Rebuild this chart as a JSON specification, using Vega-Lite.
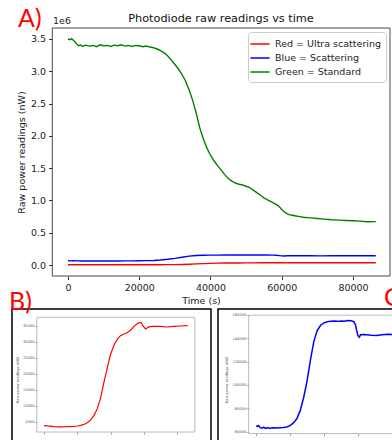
{
  "$schema": "https://vega.github.io/schema/vega-lite/v6.json",
  "padding": {"left": 8, "top": 6, "right": 0, "bottom": 0},
  "bounds": "flush",
  "spacing": 33,
  "resolve": {"legend": {"color": "independent"}, "scale": {"x": "independent", "y": "independent"}},
  "config": {
    "view": {"stroke": null},
    "font": "DejaVu Sans",
    "axis": {"grid": false, "domain": false, "labelFlush": false, "labelOverlap": false, "titleFontWeight": "normal", "tickCount": 30}
  },
  "datasets": {
    "readings": [
      {"series": "Red = Ultra scattering", "time": 0, "power": 3800},
      {"series": "Red = Ultra scattering", "time": 2000, "power": 3700},
      {"series": "Red = Ultra scattering", "time": 6000, "power": 3450},
      {"series": "Red = Ultra scattering", "time": 10000, "power": 3400},
      {"series": "Red = Ultra scattering", "time": 14000, "power": 3430},
      {"series": "Red = Ultra scattering", "time": 18000, "power": 3550},
      {"series": "Red = Ultra scattering", "time": 20000, "power": 3650},
      {"series": "Red = Ultra scattering", "time": 22000, "power": 3850},
      {"series": "Red = Ultra scattering", "time": 24000, "power": 4150},
      {"series": "Red = Ultra scattering", "time": 26000, "power": 4650},
      {"series": "Red = Ultra scattering", "time": 28000, "power": 5500},
      {"series": "Red = Ultra scattering", "time": 30000, "power": 6900},
      {"series": "Red = Ultra scattering", "time": 32000, "power": 9000},
      {"series": "Red = Ultra scattering", "time": 34000, "power": 12300},
      {"series": "Red = Ultra scattering", "time": 36000, "power": 17200},
      {"series": "Red = Ultra scattering", "time": 38000, "power": 21700},
      {"series": "Red = Ultra scattering", "time": 40000, "power": 26000},
      {"series": "Red = Ultra scattering", "time": 42000, "power": 28800},
      {"series": "Red = Ultra scattering", "time": 44000, "power": 30700},
      {"series": "Red = Ultra scattering", "time": 46000, "power": 31900},
      {"series": "Red = Ultra scattering", "time": 48000, "power": 32400},
      {"series": "Red = Ultra scattering", "time": 50000, "power": 32800},
      {"series": "Red = Ultra scattering", "time": 52000, "power": 33600},
      {"series": "Red = Ultra scattering", "time": 54000, "power": 34700},
      {"series": "Red = Ultra scattering", "time": 56000, "power": 35600},
      {"series": "Red = Ultra scattering", "time": 57500, "power": 36000},
      {"series": "Red = Ultra scattering", "time": 58500, "power": 35900},
      {"series": "Red = Ultra scattering", "time": 59500, "power": 35000},
      {"series": "Red = Ultra scattering", "time": 60500, "power": 34300},
      {"series": "Red = Ultra scattering", "time": 61200, "power": 33900},
      {"series": "Red = Ultra scattering", "time": 62000, "power": 34300},
      {"series": "Red = Ultra scattering", "time": 63500, "power": 34700},
      {"series": "Red = Ultra scattering", "time": 66000, "power": 34800},
      {"series": "Red = Ultra scattering", "time": 70000, "power": 34800},
      {"series": "Red = Ultra scattering", "time": 74000, "power": 34600},
      {"series": "Red = Ultra scattering", "time": 78000, "power": 34800},
      {"series": "Red = Ultra scattering", "time": 82000, "power": 34900},
      {"series": "Red = Ultra scattering", "time": 86400, "power": 35000},
      {"series": "Blue = Scattering", "time": 0, "power": 65000},
      {"series": "Blue = Scattering", "time": 800, "power": 64500},
      {"series": "Blue = Scattering", "time": 1500, "power": 65300},
      {"series": "Blue = Scattering", "time": 2500, "power": 63500},
      {"series": "Blue = Scattering", "time": 3500, "power": 63000},
      {"series": "Blue = Scattering", "time": 4500, "power": 63800},
      {"series": "Blue = Scattering", "time": 5500, "power": 62800},
      {"series": "Blue = Scattering", "time": 6500, "power": 63400},
      {"series": "Blue = Scattering", "time": 8000, "power": 63000},
      {"series": "Blue = Scattering", "time": 10000, "power": 63300},
      {"series": "Blue = Scattering", "time": 12000, "power": 63200},
      {"series": "Blue = Scattering", "time": 14000, "power": 63400},
      {"series": "Blue = Scattering", "time": 16000, "power": 63600},
      {"series": "Blue = Scattering", "time": 18000, "power": 64000},
      {"series": "Blue = Scattering", "time": 20000, "power": 65200},
      {"series": "Blue = Scattering", "time": 22000, "power": 67500},
      {"series": "Blue = Scattering", "time": 24000, "power": 71000},
      {"series": "Blue = Scattering", "time": 26000, "power": 78000},
      {"series": "Blue = Scattering", "time": 28000, "power": 89000},
      {"series": "Blue = Scattering", "time": 30000, "power": 103000},
      {"series": "Blue = Scattering", "time": 32000, "power": 121000},
      {"series": "Blue = Scattering", "time": 34000, "power": 137000},
      {"series": "Blue = Scattering", "time": 36000, "power": 146500},
      {"series": "Blue = Scattering", "time": 38000, "power": 151000},
      {"series": "Blue = Scattering", "time": 40000, "power": 153000},
      {"series": "Blue = Scattering", "time": 42000, "power": 154000},
      {"series": "Blue = Scattering", "time": 44000, "power": 154500},
      {"series": "Blue = Scattering", "time": 46000, "power": 154600},
      {"series": "Blue = Scattering", "time": 48000, "power": 154300},
      {"series": "Blue = Scattering", "time": 50000, "power": 154700},
      {"series": "Blue = Scattering", "time": 52000, "power": 154500},
      {"series": "Blue = Scattering", "time": 54000, "power": 155000},
      {"series": "Blue = Scattering", "time": 56000, "power": 154900},
      {"series": "Blue = Scattering", "time": 57500, "power": 154000},
      {"series": "Blue = Scattering", "time": 58500, "power": 151500},
      {"series": "Blue = Scattering", "time": 59300, "power": 146000},
      {"series": "Blue = Scattering", "time": 60000, "power": 142000},
      {"series": "Blue = Scattering", "time": 60800, "power": 140800},
      {"series": "Blue = Scattering", "time": 61500, "power": 142800},
      {"series": "Blue = Scattering", "time": 63000, "power": 143000},
      {"series": "Blue = Scattering", "time": 65000, "power": 142800},
      {"series": "Blue = Scattering", "time": 68000, "power": 142500},
      {"series": "Blue = Scattering", "time": 71000, "power": 142300},
      {"series": "Blue = Scattering", "time": 74000, "power": 142800},
      {"series": "Blue = Scattering", "time": 78000, "power": 143300},
      {"series": "Blue = Scattering", "time": 82000, "power": 143000},
      {"series": "Blue = Scattering", "time": 86400, "power": 143200},
      {"series": "Green = Standard", "time": 0, "power": 3500000},
      {"series": "Green = Standard", "time": 500, "power": 3490000},
      {"series": "Green = Standard", "time": 1000, "power": 3505000},
      {"series": "Green = Standard", "time": 1500, "power": 3480000},
      {"series": "Green = Standard", "time": 2000, "power": 3455000},
      {"series": "Green = Standard", "time": 2500, "power": 3420000},
      {"series": "Green = Standard", "time": 3000, "power": 3395000},
      {"series": "Green = Standard", "time": 3500, "power": 3410000},
      {"series": "Green = Standard", "time": 4000, "power": 3385000},
      {"series": "Green = Standard", "time": 5000, "power": 3405000},
      {"series": "Green = Standard", "time": 6000, "power": 3390000},
      {"series": "Green = Standard", "time": 7000, "power": 3400000},
      {"series": "Green = Standard", "time": 8000, "power": 3380000},
      {"series": "Green = Standard", "time": 9000, "power": 3410000},
      {"series": "Green = Standard", "time": 10000, "power": 3395000},
      {"series": "Green = Standard", "time": 11000, "power": 3400000},
      {"series": "Green = Standard", "time": 12000, "power": 3385000},
      {"series": "Green = Standard", "time": 13000, "power": 3405000},
      {"series": "Green = Standard", "time": 14000, "power": 3395000},
      {"series": "Green = Standard", "time": 15000, "power": 3410000},
      {"series": "Green = Standard", "time": 16000, "power": 3390000},
      {"series": "Green = Standard", "time": 17000, "power": 3400000},
      {"series": "Green = Standard", "time": 18000, "power": 3385000},
      {"series": "Green = Standard", "time": 19000, "power": 3400000},
      {"series": "Green = Standard", "time": 20000, "power": 3395000},
      {"series": "Green = Standard", "time": 21000, "power": 3380000},
      {"series": "Green = Standard", "time": 22000, "power": 3390000},
      {"series": "Green = Standard", "time": 23000, "power": 3375000},
      {"series": "Green = Standard", "time": 24000, "power": 3365000},
      {"series": "Green = Standard", "time": 25000, "power": 3345000},
      {"series": "Green = Standard", "time": 26000, "power": 3320000},
      {"series": "Green = Standard", "time": 27000, "power": 3285000},
      {"series": "Green = Standard", "time": 28000, "power": 3235000},
      {"series": "Green = Standard", "time": 29000, "power": 3175000},
      {"series": "Green = Standard", "time": 30000, "power": 3105000},
      {"series": "Green = Standard", "time": 31000, "power": 3035000},
      {"series": "Green = Standard", "time": 32000, "power": 2950000},
      {"series": "Green = Standard", "time": 33000, "power": 2850000},
      {"series": "Green = Standard", "time": 34000, "power": 2710000},
      {"series": "Green = Standard", "time": 35000, "power": 2550000},
      {"series": "Green = Standard", "time": 36000, "power": 2350000},
      {"series": "Green = Standard", "time": 37000, "power": 2120000},
      {"series": "Green = Standard", "time": 38000, "power": 1950000},
      {"series": "Green = Standard", "time": 39000, "power": 1810000},
      {"series": "Green = Standard", "time": 40000, "power": 1700000},
      {"series": "Green = Standard", "time": 41000, "power": 1610000},
      {"series": "Green = Standard", "time": 42000, "power": 1540000},
      {"series": "Green = Standard", "time": 43000, "power": 1470000},
      {"series": "Green = Standard", "time": 44000, "power": 1400000},
      {"series": "Green = Standard", "time": 45000, "power": 1340000},
      {"series": "Green = Standard", "time": 46000, "power": 1300000},
      {"series": "Green = Standard", "time": 47000, "power": 1270000},
      {"series": "Green = Standard", "time": 48000, "power": 1250000},
      {"series": "Green = Standard", "time": 49000, "power": 1240000},
      {"series": "Green = Standard", "time": 50000, "power": 1220000},
      {"series": "Green = Standard", "time": 51000, "power": 1200000},
      {"series": "Green = Standard", "time": 52000, "power": 1160000},
      {"series": "Green = Standard", "time": 53000, "power": 1120000},
      {"series": "Green = Standard", "time": 54000, "power": 1080000},
      {"series": "Green = Standard", "time": 55000, "power": 1040000},
      {"series": "Green = Standard", "time": 56000, "power": 1010000},
      {"series": "Green = Standard", "time": 57000, "power": 980000},
      {"series": "Green = Standard", "time": 58000, "power": 950000},
      {"series": "Green = Standard", "time": 59000, "power": 920000},
      {"series": "Green = Standard", "time": 60000, "power": 860000},
      {"series": "Green = Standard", "time": 61000, "power": 810000},
      {"series": "Green = Standard", "time": 62000, "power": 780000},
      {"series": "Green = Standard", "time": 63000, "power": 770000},
      {"series": "Green = Standard", "time": 64000, "power": 760000},
      {"series": "Green = Standard", "time": 65000, "power": 750000},
      {"series": "Green = Standard", "time": 66000, "power": 740000},
      {"series": "Green = Standard", "time": 68000, "power": 730000},
      {"series": "Green = Standard", "time": 70000, "power": 720000},
      {"series": "Green = Standard", "time": 72000, "power": 710000},
      {"series": "Green = Standard", "time": 74000, "power": 700000},
      {"series": "Green = Standard", "time": 76000, "power": 695000},
      {"series": "Green = Standard", "time": 78000, "power": 690000},
      {"series": "Green = Standard", "time": 80000, "power": 685000},
      {"series": "Green = Standard", "time": 82000, "power": 680000},
      {"series": "Green = Standard", "time": 84000, "power": 670000},
      {"series": "Green = Standard", "time": 86400, "power": 672000}
    ]
  },
  "vconcat": [
    {
      "width": 378,
      "height": 248,
      "layer": [
        {
          "data": {"name": "readings"},
          "mark": {"type": "line"},
          "encoding": {
            "x": {"field": "time", "type": "quantitative",
              "scale": {"domain": [-15719, 90386], "nice": false, "zero": false},
              "axis": {"values": [0, 20000, 40000, 60000, 80000], "tickCount": 30, "format": "d", "title": "Time (s)", "labelOverlap": false,
                "tickSize": 3.5, "tickColor": "#333", "labelFontSize": 9.5, "labelColor": "#222", "labelPadding": 3,
                "titleFontSize": 9.5, "titleColor": "#222", "titlePadding": 3}},
            "y": {"field": "power", "type": "quantitative",
              "scale": {"domain": [-170000, 3670000], "nice": false, "zero": false},
              "axis": {"values": [0, 500000, 1000000, 1500000, 2000000, 2500000, 3000000, 3500000], "tickCount": 30, "labelOverlap": false,
                "labelExpr": "format(datum.value / 1000000, '.1f')", "offset": -40, "title": "Raw power readings (nW)",
                "tickSize": 3.5, "tickColor": "#333", "labelFontSize": 9.5, "labelColor": "#222", "labelPadding": 3,
                "titleFontSize": 9.5, "titleColor": "#222", "titlePadding": 4}},
            "color": {"field": "series", "type": "nominal",
              "scale": {"domain": ["Red = Ultra scattering", "Blue = Scattering", "Green = Standard"], "range": ["#ff0000", "#0000ff", "#008000"]},
              "legend": {"orient": "top-right", "offset": 4, "title": null, "symbolType": "M-1.6,0H1.6", "symbolSize": 144,
                "symbolStrokeWidth": 1.5, "labelFontSize": 9.5, "labelColor": "#222", "padding": 5, "strokeColor": "#cccccc",
                "fillColor": "rgba(255,255,255,0.85)", "cornerRadius": 3, "rowPadding": 2, "labelOffset": 8}},
            "strokeWidth": {"field": "series", "type": "nominal",
              "scale": {"domain": ["Red = Ultra scattering", "Blue = Scattering", "Green = Standard"], "range": [1.4, 1.4, 1.9]},
              "legend": null}
          }
        },
        {
          "data": {"values": [{}]},
          "mark": {"type": "rect", "fill": "transparent", "stroke": "#333", "strokeWidth": 0.9},
          "encoding": {
            "x": {"datum": -4400, "type": "quantitative"},
            "x2": {"datum": 90386},
            "y": {"datum": -170000, "type": "quantitative"},
            "y2": {"datum": 3670000}
          }
        },
        {
          "data": {"values": [{}]},
          "mark": {"type": "text", "text": "Photodiode raw readings vs time", "fontSize": 11.3, "align": "center", "baseline": "alphabetic", "color": "#111"},
          "encoding": {"x": {"datum": 42947, "type": "quantitative"}, "y": {"datum": 3770000, "type": "quantitative"}}
        },
        {
          "data": {"values": [{}]},
          "mark": {"type": "text", "text": "1e6", "fontSize": 9.5, "align": "left", "baseline": "middle", "color": "#222"},
          "encoding": {"x": {"datum": -4211, "type": "quantitative"}, "y": {"datum": 3778000, "type": "quantitative"}}
        },
        {
          "data": {"values": [{}]},
          "mark": {"type": "text", "text": "A)", "font": "Lato", "fontSize": 25, "align": "left", "baseline": "top", "color": "#ff0000"},
          "encoding": {"x": {"datum": -14035, "type": "quantitative"}, "y": {"datum": 4002600, "type": "quantitative"}}
        }
      ]
    },
    {
      "bounds": "flush",
      "spacing": 7,
      "hconcat": [
        {
          "width": 199,
          "height": 141,
          "view": {"stroke": "#000", "strokeWidth": 1.5},
          "layer": [
            {
              "data": {"name": "readings"},
              "transform": [{"filter": "datum.series === 'Red = Ultra scattering'"}],
              "mark": {"type": "line", "color": "#ff0000", "strokeWidth": 1.2},
              "encoding": {
                "x": {"field": "time", "type": "quantitative",
                  "scale": {"domain": [-19248, 100451], "nice": false, "zero": false},
                  "axis": {"values": [0, 20000, 40000, 60000, 80000], "tickCount": 30, "labels": false, "title": null, "offset": -18, "tickSize": 2, "tickColor": "#999"}},
                "y": {"field": "power", "type": "quantitative",
                  "scale": {"domain": [-3844, 40219], "nice": false, "zero": false},
                  "axis": {"values": [5000, 10000, 15000, 20000, 25000, 30000, 35000], "tickCount": 30, "format": "d", "offset": -25, "labelOverlap": false,
                    "title": "Raw power readings (nW)", "tickSize": 2, "tickColor": "#999", "labelFontSize": 3.6, "labelColor": "#555",
                    "labelPadding": 1, "titleFontSize": 3.6, "titleColor": "#555", "titlePadding": 3}}
              }
            },
            {
              "data": {"values": [{}]},
              "mark": {"type": "rect", "fill": "transparent", "stroke": "#aaaaaa", "strokeWidth": 0.8},
              "encoding": {
                "x": {"datum": -4320, "type": "quantitative"},
                "x2": {"datum": 90720},
                "y": {"datum": 1770, "type": "quantitative"},
                "y2": {"datum": 37630}
              }
            },
            {
              "data": {"values": [{}]},
              "mark": {"type": "text", "text": "B)", "font": "Lato", "fontSize": 25, "align": "left", "baseline": "top", "color": "#ff0000"},
              "encoding": {"x": {"datum": -21053, "type": "quantitative"}, "y": {"datum": 46156, "type": "quantitative"}}
            }
          ]
        },
        {
          "width": 178,
          "height": 141,
          "view": {"stroke": "#000", "strokeWidth": 1.5},
          "layer": [
            {
              "data": {"name": "readings"},
              "transform": [{"filter": "datum.series === 'Blue = Scattering'"}],
              "mark": {"type": "line", "color": "#0000ff", "strokeWidth": 1.5, "clip": true},
              "encoding": {
                "x": {"field": "time", "type": "quantitative",
                  "scale": {"domain": [-22353, 82353], "nice": false, "zero": false},
                  "axis": {"values": [0, 20000, 40000, 60000, 80000], "tickCount": 30, "labels": false, "title": null, "offset": -16.5, "tickSize": 2, "tickColor": "#999"}},
                "y": {"field": "power", "type": "quantitative",
                  "scale": {"domain": [44359, 164872], "nice": false, "zero": false},
                  "axis": {"values": [60000, 80000, 100000, 120000, 140000, 160000], "tickCount": 30, "format": "d", "offset": -30.7, "labelOverlap": false,
                    "title": "Raw power readings (nW)", "tickSize": 2, "tickColor": "#999", "labelFontSize": 3.6, "labelColor": "#555",
                    "labelPadding": 1, "titleFontSize": 3.6, "titleColor": "#555", "titlePadding": 3}}
              }
            },
            {
              "data": {"values": [{}]},
              "mark": {"type": "rect", "fill": "transparent", "stroke": "#aaaaaa", "strokeWidth": 0.8, "clip": true},
              "encoding": {
                "x": {"datum": -4320, "type": "quantitative"},
                "x2": {"datum": 90720},
                "y": {"datum": 58400, "type": "quantitative"},
                "y2": {"datum": 159600}
              }
            },
            {
              "data": {"values": [{}]},
              "mark": {"type": "text", "text": "C)", "font": "Lato", "fontSize": 25, "align": "left", "baseline": "top", "color": "#ff0000"},
              "encoding": {"x": {"datum": 75294, "type": "quantitative"}, "y": {"datum": 184530, "type": "quantitative"}}
            }
          ]
        }
      ]
    }
  ]
}
